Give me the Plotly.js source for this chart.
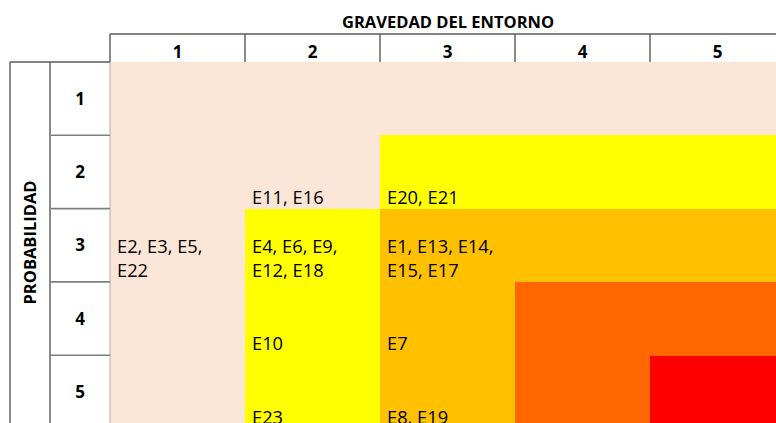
<!DOCTYPE html>
<html>
<head>
<meta charset="utf-8">
<script src="https://cdn.plot.ly/plotly-3.0.1.min.js"></script>
<style>
  html, body { margin: 0; padding: 0; background: #ffffff; }
  #chart { width: 776px; height: 423px; }
</style>
</head>
<body>
<div id="chart"></div>
<script>
// ---- data ----
const gravedad = [1, 2, 3, 4, 5];               // columns
const probabilidad = [1, 2, 3, 4, 5];           // rows
const nivelRiesgo = [                            // risk level per row (probabilidad) x column (gravedad)
  [0, 0, 0, 0, 0],
  [0, 0, 1, 1, 1],
  [0, 1, 2, 2, 2],
  [0, 1, 2, 3, 3],
  [0, 1, 2, 3, 4]
];
const coloresNivel = ['#FBE5D6', '#FFFF00', '#FFC000', '#FF6600', '#FF0000'];
const tituloGravedad = 'GRAVEDAD DEL ENTORNO';
const tituloProbabilidad = 'PROBABILIDAD';

const etiquetaGravedad = [2, 3, 1, 2, 3, 2, 3, 2, 3];
const etiquetaProbabilidad = [2, 2, 3, 3, 3, 4, 4, 5, 5];
const etiquetaTexto = [
  'E11, E16',
  'E20, E21',
  'E2, E3, E5,<br>E22',
  'E4, E6, E9,<br>E12, E18',
  'E1, E13, E14,<br>E15, E17',
  'E10',
  'E7',
  'E23',
  'E8, E19'
];

// ---- layout geometry ----
const W = 776, H = 423;
const mL = 110, mT = 62;
const colW = 135, rowH = 73.3;
const plotW = W - mL, plotH = H - mT;
const xMax = 0.5 + plotW / colW;
const yMax = 0.5 + plotH / rowH;
const headerH = 28;

const FONT = 'Open Sans, Noto Sans, Liberation Sans, sans-serif';
const lineCol = '#5a5a5a';

// discrete colorscale
const n = coloresNivel.length;
const colorscale = [];
coloresNivel.forEach((c, i) => {
  colorscale.push([i / n, c]);
  colorscale.push([(i + 1) / n, c]);
});

const heat = {
  type: 'heatmap',
  x: gravedad,
  y: probabilidad,
  z: nivelRiesgo,
  zmin: -0.5,
  zmax: n - 0.5,
  colorscale: colorscale,
  showscale: false,
  xgap: 0, ygap: 0,
  hoverinfo: 'skip'
};

const annotations = [];
etiquetaTexto.forEach((t, i) => {
  annotations.push({
    xref: 'x', yref: 'y',
    x: etiquetaGravedad[i], y: etiquetaProbabilidad[i],
    xshift: -colW / 2 + 5, yshift: -rowH / 2 - 2,
    xanchor: 'left', yanchor: 'bottom', align: 'left',
    text: t, showarrow: false,
    font: { family: FONT, size: 18.3, color: '#000000' }
  });
});
annotations.push({
  xref: 'x', yref: 'paper', x: 3, y: 1, yshift: 41,
  xanchor: 'center', yanchor: 'middle',
  text: '<b>' + tituloGravedad + '</b>', showarrow: false,
  font: { family: FONT, size: 16.5, color: '#000000' }
});
annotations.push({
  xref: 'paper', yref: 'paper', x: 0, y: 0.5, xshift: -81,
  xanchor: 'center', yanchor: 'middle', textangle: -90,
  text: '<b>' + tituloProbabilidad + '</b>', showarrow: false,
  font: { family: FONT, size: 16.5, color: '#000000' }
});

const shapes = [];
const ln = { color: lineCol, width: 1.4 };
// header top line
shapes.push({ type: 'line', xref: 'paper', x0: 0, x1: 1.05,
  yref: 'paper', ysizemode: 'pixel', yanchor: 1, y0: headerH, y1: headerH, line: ln });
// header vertical dividers
gravedad.forEach((g, i) => {
  if (i === 0) {
    shapes.push({ type: 'line', xref: 'paper', x0: 0, x1: 0,
      yref: 'paper', ysizemode: 'pixel', yanchor: 1, y0: 0, y1: headerH, line: ln });
  } else {
    shapes.push({ type: 'line', xref: 'x', x0: g - 0.5, x1: g - 0.5,
      yref: 'paper', ysizemode: 'pixel', yanchor: 1, y0: 0, y1: headerH, line: ln });
  }
});
// left label column
shapes.push({ type: 'line', xref: 'paper', xsizemode: 'pixel', xanchor: 0, x0: -100, x1: -100,
  yref: 'paper', y0: 0, y1: 1, line: ln });
shapes.push({ type: 'line', xref: 'paper', xsizemode: 'pixel', xanchor: 0, x0: -60, x1: -60,
  yref: 'paper', y0: 0, y1: 1, line: ln });
shapes.push({ type: 'line', xref: 'paper', xsizemode: 'pixel', xanchor: 0, x0: -100, x1: 0,
  yref: 'paper', y0: 1, y1: 1, line: ln });
shapes.push({ type: 'line', xref: 'paper', x0: 0, x1: 0,
  yref: 'paper', y0: 0, y1: 1, line: { color: '#b0b0b0', width: 1 } });
probabilidad.slice(0, -1).forEach(p => {
  shapes.push({ type: 'line', xref: 'paper', xsizemode: 'pixel', xanchor: 0, x0: -60, x1: 0,
    yref: 'y', y0: p + 0.5, y1: p + 0.5, line: { color: '#7f7f7f', width: 1.6 } });
});

const layout = {
  width: W, height: H,
  margin: { l: mL, r: 0, t: mT, b: 0, pad: 0 },
  paper_bgcolor: '#ffffff',
  plot_bgcolor: '#ffffff',
  showlegend: false,
  xaxis: {
    range: [0.5, xMax], side: 'top',
    tickvals: gravedad, ticktext: gravedad.map(String),
    ticks: '', showgrid: false, zeroline: false, showline: false,
    tickfont: { family: FONT, size: 17, color: '#000000', weight: 'bold' },
    ticklabelstandoff: 0,
    fixedrange: true, automargin: false
  },
  yaxis: {
    range: [yMax, 0.5],
    tickvals: probabilidad, ticktext: probabilidad.map(String),
    ticks: '', showgrid: false, zeroline: false, showline: false,
    tickfont: { family: FONT, size: 17, color: '#000000', weight: 'bold' },
    ticklabelstandoff: 24,
    fixedrange: true, automargin: false
  },
  annotations: annotations,
  shapes: shapes
};

Plotly.newPlot('chart', [heat], layout, { displayModeBar: false, staticPlot: true });
</script>
</body>
</html>
